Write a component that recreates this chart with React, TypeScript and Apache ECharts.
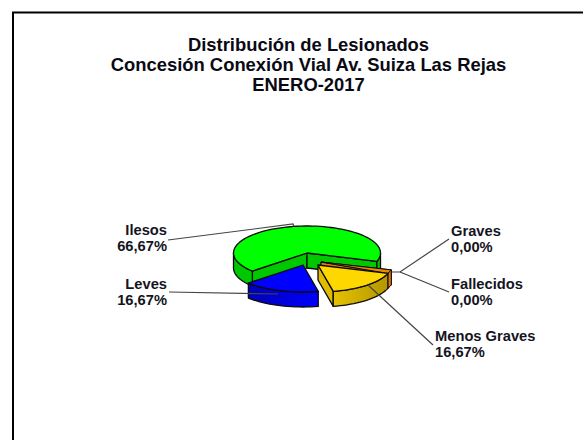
import React, { useEffect, useRef } from "react";
import * as echarts from "echarts";

const titleLines = ["Distribución de Lesionados", "Concesión Conexión Vial Av. Suiza Las Rejas", "ENERO-2017"];
const categories = ["Ilesos", "Graves", "Fallecidos", "Menos Graves", "Leves"];
const percents = [66.67, 0, 0, 16.67, 16.66];
const percentLabels = ["66,67%", "0,00%", "0,00%", "16,67%", "16,67%"];

const FONT = '"Liberation Sans", Arial, sans-serif';
const CX = 307, CY = 253, RX = 73.5, RY = 27, DEPTH = 15;
const START = 138; // degrees clockwise from east, in the pie's own plane
const SLIVER = 8; // a zero-valued slice is still drawn as a thin wedge
const EDGE = "#0a0a0a";

const offsets: Record<string, [number, number]> = {
  Ilesos: [0, 0],
  Graves: [14, 9],
  Fallecidos: [14, 9],
  "Menos Graves": [11, 12],
  Leves: [-4, 12],
};
const tops: Record<string, string> = {
  Ilesos: "#00ff00",
  Graves: "#e07800",
  Fallecidos: "#ee8800",
  "Menos Graves": "#ffd700",
  Leves: "#0000ff",
};
const sides: Record<string, [string, string]> = {
  Ilesos: ["#00c800", "#00c800"],
  Graves: ["#c86800", "#c86800"],
  Fallecidos: ["#e07c00", "#e07c00"],
  "Menos Graves": ["#e6c200", "#b49600"],
  Leves: ["#0000b4", "#0000ff"],
};
const faces: Record<string, string> = {
  Ilesos: "#00c800",
  Graves: "#c86800",
  Fallecidos: "#e07c00",
  "Menos Graves": "#e0bc00",
  Leves: "#0000c8",
};

// label anchor: [x, first line y, align], leader: points
const labelPlacement: Record<string, { x: number; y: number; align: string; leader: number[][] }> = {
  Ilesos: { x: 167, y: 230, align: "right", leader: [[168, 240], [293, 224], [294, 226]] },
  Leves: { x: 167, y: 284, align: "right", leader: [[169, 292], [278, 294]] },
  Graves: { x: 451, y: 231, align: "left", leader: [[449, 239], [400, 272], [392, 272]] },
  Fallecidos: { x: 451, y: 284, align: "left", leader: [[449, 292], [400, 272]] },
  "Menos Graves": { x: 435, y: 336, align: "left", leader: [[433, 345], [368, 285]] },
};

const pt = (ox: number, oy: number, deg: number, dy = 0): number[] => {
  const t = (deg * Math.PI) / 180;
  return [ox + RX * Math.cos(t), oy + RY * Math.sin(t) + dy];
};
const arc = (ox: number, oy: number, a0: number, a1: number, dy = 0): number[][] => {
  const n = Math.max(2, Math.ceil(Math.abs(a1 - a0) / 3));
  const out: number[][] = [];
  for (let i = 0; i <= n; i++) out.push(pt(ox, oy, a0 + ((a1 - a0) * i) / n, dy));
  return out;
};

function angleRange(i: number): [number, number] {
  let acc = START;
  const scale = 360 / percents.reduce((s, v) => s + v, 0);
  for (let k = 0; k < i; k++) acc += percents[k] * scale;
  const sweep = percents[i] * scale;
  if (sweep === 0) return [acc - 1, acc - 1 + SLIVER];
  return [acc, acc + sweep];
}

function renderItem(params: any, api: any) {
  const i = params.dataIndex;
  const name = categories[i];
  api.value(0);
  const [a0, a1] = angleRange(i);
  const [dx, dy] = offsets[name];
  const ox = CX + dx, oy = CY + dy;
  const children: any[] = [];
  const stroke = { stroke: EDGE, lineWidth: percents[i] === 0 ? 1 : 1.3, lineJoin: "round" };
  const grad = sides[name];

  // radial cut faces
  const face = (deg: number) => {
    const p = pt(ox, oy, deg);
    children.push({
      type: "polygon",
      shape: { points: [[ox, oy], p, [p[0], p[1] + DEPTH], [ox, oy + DEPTH]] },
      style: { fill: faces[name], ...stroke },
    });
  };
  const sinD = (d: number) => Math.sin((d * Math.PI) / 180);
  if (sinD(a0 - 90) > 0) face(a0);
  if (sinD(a1 + 90) > 0) face(a1);

  // outer wall, only the part that faces the viewer
  for (const base of [0, 360]) {
    const s = Math.max(a0, base);
    const e = Math.min(a1, base + 180);
    if (e > s) {
      const upper = arc(ox, oy, s, e);
      const lower = arc(ox, oy, e, s, DEPTH);
      const left = Math.min(...upper.map((p) => p[0]));
      const right = Math.max(...upper.map((p) => p[0]));
      children.push({
        type: "polygon",
        shape: { points: [...upper, ...lower] },
        style: {
          fill: new echarts.graphic.LinearGradient(left, 0, right, 0, [
            { offset: 0, color: grad[0] },
            { offset: 1, color: grad[1] },
          ], true),
          ...stroke,
        },
      });
    }
  }

  // top
  children.push({
    type: "polygon",
    shape: { points: [[ox, oy], ...arc(ox, oy, a0, a1)] },
    style: { fill: tops[name], ...stroke },
  });
  return { type: "group", children };
}

export default function App() {
  const ref = useRef<HTMLDivElement>(null);
  useEffect(() => {
    const chart = echarts.init(ref.current!, undefined, { renderer: "svg" });
    const graphics: any[] = [
      {
        type: "polyline",
        shape: { points: [[13, 440], [13, 12.5], [583, 12.5]] },
        style: { fill: "none", stroke: "#000", lineWidth: 2 },
        silent: true,
      },
    ];
    categories.forEach((c, i) => {
      const p = labelPlacement[c];
      graphics.push({
        type: "polyline",
        z: 10,
        shape: { points: p.leader },
        style: { fill: "none", stroke: "#444", lineWidth: 1.2 },
        silent: true,
      });
      [c, percentLabels[i]].forEach((t, k) => {
        graphics.push({
          type: "text",
          z: 11,
          x: p.x,
          y: p.y + k * 16,
          style: {
            text: t,
            fill: "#14141e",
            font: `bold 14.7px ${FONT}`,
            textAlign: p.align,
            textVerticalAlign: "middle",
          },
          silent: true,
        });
      });
    });
    chart.setOption({
      animation: false,
      backgroundColor: "#ffffff",
      title: {
        text: titleLines.join("\n"),
        left: 303.5,
        top: 29,
        textAlign: "center",
        textStyle: { fontFamily: FONT, fontWeight: "bold", fontSize: 18.4, lineHeight: 20, color: "#0a0a14" },
      },
      graphic: graphics,
      series: [
        {
          type: "custom",
          coordinateSystem: "none",
          renderItem,
          data: categories.map((c, i) => ({ name: c, value: [percents[i]] })),
          silent: true,
        },
      ],
    });
    return () => chart.dispose();
  }, []);
  return <div ref={ref} style={{ position: "absolute", left: 0, top: 0, width: 583, height: 440 }} />;
}
